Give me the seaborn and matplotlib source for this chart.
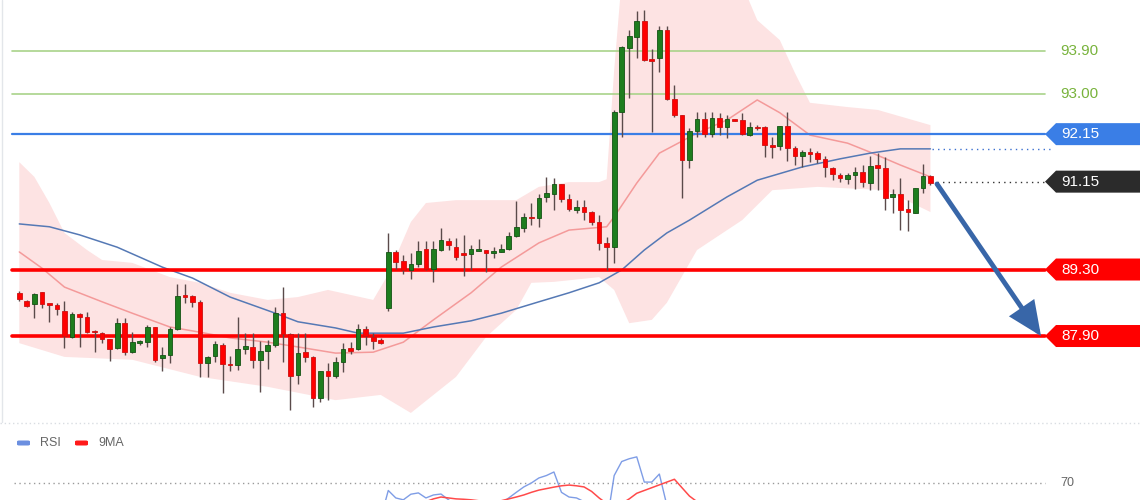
import numpy as np
import pandas as pd
import matplotlib
matplotlib.use("Agg")
import matplotlib.pyplot as plt
import seaborn as sns
from matplotlib.patches import Polygon, FancyBboxPatch
from matplotlib.transforms import blended_transform_factory

# ---------------- data ----------------
opens = [88.80, 88.64, 88.57, 88.82, 88.57, 88.55, 88.43, 87.87, 88.36, 88.29,
         88.01, 87.96, 87.83, 87.64, 88.17, 87.57, 87.75, 87.77, 88.08, 87.43,
         87.50, 88.04, 88.75, 88.74, 88.62, 87.33, 87.48, 87.71, 87.31, 87.29,
         87.63, 87.67, 87.40, 87.59, 87.71, 88.38, 87.94, 87.08, 87.57, 87.46,
         86.59, 87.16, 87.06, 87.35, 87.65, 87.63, 88.05, 87.87, 87.82, 88.48,
         89.67, 89.48, 89.30, 89.41, 89.73, 89.31, 89.71, 89.90, 89.78, 89.63,
         89.62, 89.69, 89.71, 89.64, 89.67, 89.73, 90.01, 90.17, 90.41, 90.38,
         90.82, 90.90, 91.10, 90.79, 90.55, 90.62, 90.52, 90.29, 89.86, 89.78,
         92.62, 93.97, 94.20, 94.53, 93.73, 93.75, 94.34, 92.89, 92.55, 91.61,
         92.22, 92.46, 92.15, 92.48, 92.29, 92.46, 92.45, 92.13, 92.30, 92.31,
         91.92, 91.89, 92.33, 91.86, 91.69, 91.78, 91.76, 91.63, 91.43, 91.29,
         91.21, 91.29, 91.36, 91.13, 91.49, 91.44, 90.82, 90.89, 90.57, 90.50,
         91.02, 91.27]
highs = [88.85, 88.66, 88.81, 88.83, 88.58, 88.59, 88.64, 88.40, 88.39, 88.40,
         88.02, 87.99, 87.84, 88.27, 88.27, 87.98, 87.82, 88.13, 88.10, 87.67,
         88.10, 88.99, 88.99, 88.76, 88.66, 87.48, 87.80, 87.75, 87.48, 88.29,
         87.97, 87.96, 87.80, 87.82, 88.52, 88.94, 87.96, 87.96, 87.96, 87.48,
         87.17, 87.33, 87.46, 87.75, 87.78, 88.15, 88.12, 87.96, 87.86, 90.06,
         89.71, 89.61, 89.64, 89.89, 89.89, 89.89, 90.17, 89.97, 89.96, 90.03,
         89.82, 89.94, 89.72, 89.78, 89.83, 90.10, 90.74, 90.48, 90.69, 90.89,
         91.24, 91.22, 91.10, 90.89, 90.76, 90.76, 90.53, 90.45, 89.99, 92.66,
         94.00, 94.34, 94.74, 94.76, 93.94, 94.43, 94.43, 93.18, 92.55, 92.27,
         92.62, 92.61, 92.61, 92.59, 92.55, 92.47, 92.59, 92.41, 92.34, 92.32,
         92.10, 92.33, 92.62, 91.89, 91.82, 91.85, 91.80, 91.68, 91.46, 91.34,
         91.33, 91.46, 91.50, 91.69, 91.75, 91.67, 90.99, 91.22, 90.76, 91.02,
         91.52, 91.29]
lows = [88.64, 88.51, 88.27, 88.48, 88.20, 88.34, 87.64, 87.86, 87.67, 87.96,
        87.57, 87.75, 87.37, 87.63, 87.49, 87.54, 87.71, 87.67, 87.36, 87.17,
        87.33, 88.02, 88.60, 88.52, 87.04, 87.04, 87.36, 86.71, 87.17, 87.19,
        87.52, 87.22, 86.73, 87.21, 87.67, 87.36, 86.34, 86.89, 87.36, 86.41,
        86.52, 86.55, 87.01, 87.15, 87.52, 87.61, 87.71, 87.62, 87.73, 88.43,
        89.32, 89.20, 89.10, 89.36, 89.30, 89.03, 89.69, 89.71, 89.50, 89.17,
        89.29, 89.69, 89.25, 89.54, 89.67, 89.71, 89.99, 90.10, 90.24, 90.20,
        90.73, 90.55, 90.73, 90.54, 90.48, 90.34, 90.24, 89.71, 89.29, 89.44,
        92.10, 92.92, 93.76, 93.69, 92.19, 93.46, 92.87, 92.52, 90.80, 91.43,
        92.10, 92.08, 92.08, 92.13, 92.06, 92.42, 92.13, 92.12, 92.24, 91.67,
        91.64, 91.82, 91.58, 91.50, 91.46, 91.56, 91.55, 91.25, 91.18, 91.15,
        91.10, 90.99, 91.04, 90.97, 90.97, 90.55, 90.48, 90.13, 90.11, 90.50,
        90.92, 91.08]
closes = [88.68, 88.53, 88.79, 88.57, 88.55, 88.46, 87.89, 88.36, 88.29, 87.99,
          87.98, 87.84, 87.63, 88.17, 87.56, 87.77, 87.79, 88.08, 87.40, 87.49,
          88.04, 88.75, 88.73, 88.62, 87.33, 87.46, 87.73, 87.31, 87.28, 87.63,
          87.69, 87.40, 87.59, 87.71, 88.39, 87.94, 87.06, 87.54, 87.46, 86.60,
          87.16, 87.06, 87.35, 87.63, 87.58, 88.05, 87.89, 87.80, 87.76, 89.67,
          89.46, 89.30, 89.41, 89.70, 89.31, 89.73, 89.92, 89.82, 89.57, 89.61,
          89.73, 89.72, 89.64, 89.69, 89.73, 90.01, 90.19, 90.40, 90.38, 90.81,
          90.92, 91.10, 90.78, 90.57, 90.62, 90.52, 90.31, 89.86, 89.78, 92.62,
          93.99, 94.22, 94.53, 93.71, 93.69, 94.34, 92.89, 92.55, 91.61, 92.22,
          92.46, 92.15, 92.48, 92.31, 92.46, 92.43, 92.15, 92.31, 92.27, 91.92,
          91.87, 92.33, 91.85, 91.70, 91.78, 91.73, 91.63, 91.46, 91.31, 91.23,
          91.29, 91.36, 91.14, 91.48, 91.43, 90.81, 90.90, 90.55, 90.52, 91.02,
          91.27, 91.13]

# Bollinger band edges (candle index, price)
upper_idx = [0, 2, 4, 6, 9, 11, 15, 20, 24, 28, 33, 37, 41, 47, 49, 52, 54, 58, 66,
             69, 73, 77, 78, 79, 80, 96, 98, 101, 103, 105, 110, 114, 121]
upper_val = [91.56, 91.25, 90.70, 90.07, 89.71, 89.50, 89.44, 89.14, 89.02, 88.81,
             88.66, 88.72, 88.87, 88.66, 89.20, 90.30, 90.70, 90.76, 90.76, 91.04,
             91.14, 91.14, 91.20, 93.50, 95.40, 95.30, 94.55, 94.13, 93.44, 92.81,
             92.72, 92.66, 92.34]
lower_idx = [0, 6, 15, 24, 33, 42, 48, 52, 58, 62, 66, 68, 71, 77, 79, 81, 84, 86,
             90, 96, 100, 106, 115, 121]
lower_val = [87.75, 87.46, 87.40, 87.04, 86.83, 86.55, 86.66, 86.28, 87.04, 87.88,
             88.45, 89.02, 89.04, 89.14, 88.87, 88.17, 88.24, 88.60, 89.71, 90.34,
             90.97, 91.04, 90.97, 90.51]
# middle band (red) and slow moving average (blue)
mid_idx = [0, 3, 6, 11, 15, 20, 24, 28, 33, 37, 42, 47, 51, 55, 60, 64, 69, 73, 78,
           79, 82, 85, 90, 94, 98, 101, 105, 110, 113, 117, 121]
mid_val = [89.67, 89.33, 88.93, 88.62, 88.38, 88.09, 87.98, 87.86, 87.77, 87.67,
           87.54, 87.56, 87.77, 88.24, 88.81, 89.35, 89.86, 90.13, 90.20, 90.41,
           91.12, 91.75, 92.17, 92.45, 92.87, 92.60, 92.13, 91.96, 91.77, 91.50,
           91.25]
slow_idx = [0, 4, 8, 13, 19, 23, 28, 34, 37, 42, 45, 51, 55, 60, 64, 69, 73, 77, 80,
            83, 86, 89, 94, 98, 104, 109, 113, 117, 121]
slow_val = [90.26, 90.20, 90.03, 89.77, 89.35, 89.12, 88.72, 88.38, 88.20, 88.07,
            87.96, 87.96, 88.09, 88.22, 88.38, 88.62, 88.81, 89.02, 89.29, 89.71,
            90.07, 90.34, 90.83, 91.18, 91.46, 91.63, 91.75, 91.84, 91.84]

# RSI panel (only the upper part is visible)
rsi_idx = list(range(44, 92))
rsi_val = [52, 55, 53, 52, 51, 66, 62, 61, 64, 64.7, 62, 63.6, 64.1, 61, 58, 57,
           58, 58, 56, 57, 59, 62, 65, 67.9, 70, 72.7, 74, 75.9, 65, 62.5, 62, 60,
           57, 50, 48, 74, 81.5, 83, 84, 70.5, 70.5, 74.8, 58, 55, 46, 52, 55, 56]
ma9_idx = list(range(52, 92))
ma9_val = [56, 58, 60, 61.5, 62.5, 62, 61.5, 61.3, 61, 60.5, 60, 60, 60.5, 61.5,
           62.5, 63.6, 65, 66.2, 67, 67.8, 68.5, 68.9, 68.5, 67.9, 65.5, 62, 59, 58,
           59, 61.5, 64.5, 66, 67.5, 69, 70.5, 72, 67.5, 63, 60, 58]

green_levels = [93.90, 93.00]
tag_levels = [92.15, 89.30, 87.90]
tag_colors = ["#3a7ee6", "#ff0000", "#ff0000"]
last_price = 91.15
arrow_target = 87.90
rsi_level = 70
legend_names = ["RSI", "9MA"]

# ---------------- style ----------------
sns.set_theme(style="white")
plt.rcParams["font.family"] = ["Liberation Sans", "DejaVu Sans"]

W, H = 1140, 500
fig = plt.figure(figsize=(W / 100, H / 100), dpi=100)
fig.patch.set_facecolor("white")

main_top_px, main_bot_px = 0, 422
ax = fig.add_axes([0, 1 - main_bot_px / H, 1, (main_bot_px - main_top_px) / H])
x0 = 19.3
dx = 7.53
ax.set_xlim(-x0 / dx, (W - x0) / dx)
ppu = 47.5
ytop = 94.974
ax.set_ylim(ytop - main_bot_px / ppu, ytop)
ax.axis("off")
tx = blended_transform_factory(ax.transAxes, ax.transData)

def fx(px):
    return px / W

# Bollinger band area
ax.fill(np.r_[upper_idx, lower_idx[::-1]], np.r_[upper_val, lower_val[::-1]],
        facecolor="#fde3e3", edgecolor="none", zorder=1)

# moving averages
sns.lineplot(x=mid_idx, y=mid_val, ax=ax, color="#f49a9a", lw=1.1, zorder=3)
sns.lineplot(x=slow_idx, y=slow_val, ax=ax, color="#5579b5", lw=1.1, zorder=3)

# horizontal levels
for lv in green_levels:
    ax.axhline(lv, xmin=fx(12), xmax=fx(1045), color="#a9d38a", lw=1.2, zorder=2)
    ax.text(fx(1060), lv, f"{lv:.2f}", transform=tx, color="#78b33c",
            fontsize=11, va="center", ha="left")

for lv, col in zip(tag_levels, tag_colors):
    lw = 1.6 if col != "#ff0000" else 2.6
    ax.axhline(lv, xmin=fx(12), xmax=fx(1045), color=col, lw=lw, zorder=4)

def tag(v, col):
    h = 11 / ppu
    pts = [(fx(1045), v), (fx(1056), v + h), (fx(1140), v + h), (fx(1140), v - h),
           (fx(1056), v - h)]
    ax.add_patch(Polygon(pts, closed=True, transform=tx, facecolor=col,
                         edgecolor="none", zorder=6))
    ax.text(fx(1061), v, f"{v:.2f}", transform=tx, color="white", fontsize=11,
            va="center", ha="left", zorder=7)

for lv, col in zip(tag_levels, tag_colors):
    tag(lv, col)
tag(last_price, "#2b2b2b")

# dotted guides
ax.axhline(last_price, xmin=fx(937), xmax=fx(1045), color="#333333", lw=1,
           ls=(0, (1, 3)), zorder=4)
ax.axhline(slow_val[-1], xmin=fx(932), xmax=fx(1050), color="#3a6fd0", lw=1,
           ls=(0, (1, 3)), zorder=4)

# candles
idx = np.arange(len(opens))
o = np.array(opens); c = np.array(closes)
up = c >= o
body_col = np.where(up, "#1e7d1e", "#ff0000")
edge_col = np.where(up, "#145214", "#cc1010")
ax.vlines(idx, lows, highs, color="#5a4a4a", lw=1, zorder=5)
bottom = np.minimum(o, c)
height = np.maximum(np.abs(c - o), 0.035)
ax.bar(idx, height, bottom=bottom, width=0.62, color=body_col,
       edgecolor=edge_col, lw=0.6, zorder=6)

# forecast arrow
ax.annotate("", xy=((1041 - x0) / dx, arrow_target), xytext=((937 - x0) / dx, 91.10),
            arrowprops=dict(arrowstyle="-|>,head_length=0.85,head_width=0.38",
                            color="#3866a8", lw=3.5, mutation_scale=22,
                            shrinkA=0, shrinkB=0, joinstyle="miter"), zorder=8)

# panel borders
fig.add_artist(plt.Line2D([fx(2), fx(2)], [1 - 422 / H, 1], color="#e3e6ea", lw=1))
fig.add_artist(plt.Line2D([0, 1], [1 - 423 / H, 1 - 423 / H], color="#d9dde2",
                          lw=1, ls=(0, (1, 2))))

# ---------------- RSI panel ----------------
rax = fig.add_axes([0, 0, 1, 45 / H])
rax.set_xlim(ax.get_xlim())
rax.set_ylim(60.9, 85)
rax.axis("off")
rtx = blended_transform_factory(rax.transAxes, rax.transData)
rax.axhline(rsi_level, xmin=fx(14), xmax=fx(1045), color="#9a9a9a", lw=1,
            ls=(0, (1, 2.5)))
rax.text(fx(1060), rsi_level, str(rsi_level), transform=rtx, color="#666666",
         fontsize=9, va="center", ha="left")
sns.lineplot(x=rsi_idx, y=rsi_val, ax=rax, color="#7f9de6", lw=1)
sns.lineplot(x=ma9_idx, y=ma9_val, ax=rax, color="#ff4a4a", lw=1.1)

# legend
leg_y = 1 - 443 / H
for name, col, xs in zip(legend_names, ["#6b8fe0", "#ff1a1a"], [17, 75]):
    fig.add_artist(FancyBboxPatch((fx(xs), leg_y - 2.5 / H), 13 / W, 5 / H,
                                  boxstyle="round,pad=0.0,rounding_size=0.002",
                                  facecolor=col, edgecolor="none",
                                  transform=fig.transFigure))
    fig.text(fx(xs + 23), leg_y, name, color="#666666", fontsize=9,
             va="center", ha="left")

fig.savefig("out.png", dpi=100, facecolor="white")
